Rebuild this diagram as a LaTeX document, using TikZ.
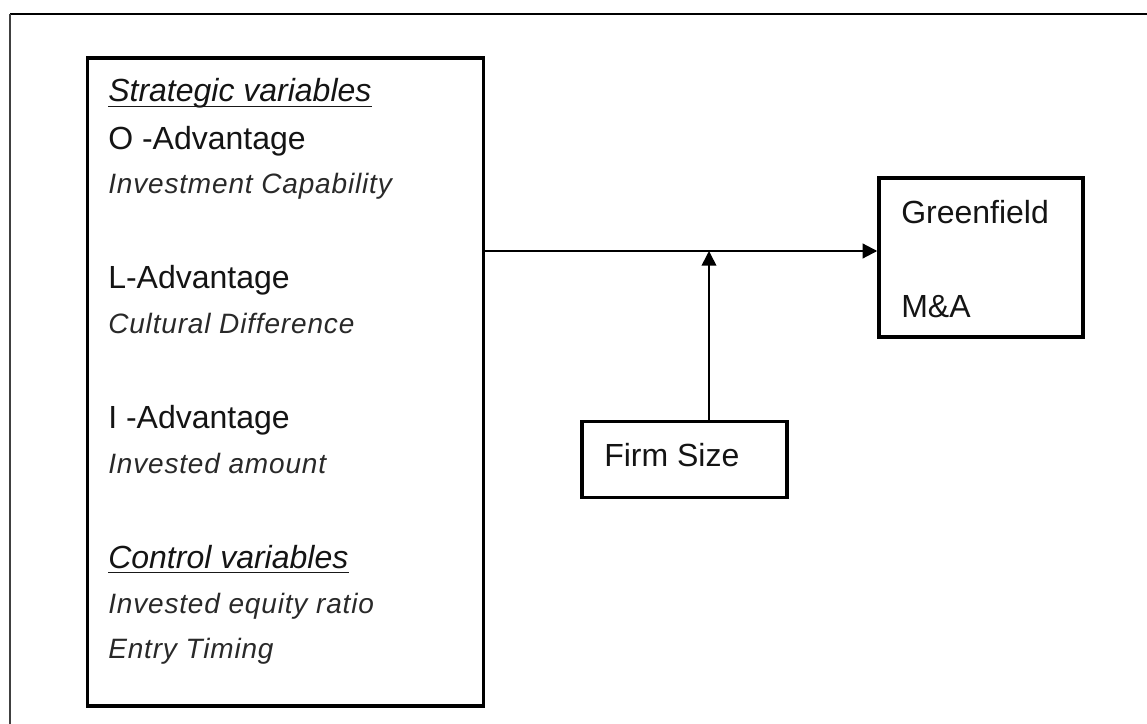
\documentclass[tikz,border=0pt]{standalone}
\usepackage{fontspec}
\setmainfont{Liberation Sans}
\newfontfamily\slfont[LetterSpace=3]{Liberation Sans}
\usetikzlibrary{arrows.meta}
\begin{document}
\begin{tikzpicture}[x=0.75pt,y=-0.75pt,
  box/.style={draw=black,line width=2.6pt,inner sep=0pt,rectangle},
  txt/.style={anchor=base west,inner sep=0pt,font=\fontsize{24}{28}\selectfont,text=black!92},
  sub/.style={anchor=base west,inner sep=0pt,font=\slfont\itshape\fontsize{21}{25}\selectfont,text=black!84},
  head/.style={anchor=base west,inner sep=0pt,font=\itshape\fontsize{24}{28}\selectfont,text=black!92},
  link/.style={draw=black,-{Triangle[length=11pt,width=11pt]}}
]
\useasboundingbox (0,0) rectangle (1147,724);
% page frame (top and left edges)
\draw[line width=2.2pt] (1147,14) -- (10,14);
\draw[line width=1.4pt,black!75] (10,14) -- (10,724);

% boxes
\node[box,minimum width=297pt,minimum height=486pt] (vars) at (285.5,382) {};
\node[box,minimum width=153pt,minimum height=119pt] (mode) at (981,257.5) {};
\node[box,minimum width=154pt,minimum height=57pt] (size) at (684.5,459.5) {};

% variables list
\node[head] (sv) at (108,102) {Strategic variables};
\draw[line width=1.1pt,black!90] ([yshift=-3.5pt]sv.base west) -- ([yshift=-3.5pt]sv.base east);
\node[txt] (oa) at (108,150) {O -Advantage};
\node[sub] (ic) at (108,194) {Investment Capability};
\node[txt] (la) at (108,288) {L-Advantage};
\node[sub] (cd) at (108,333) {Cultural Difference};
\node[txt] (ia) at (108,428) {I -Advantage};
\node[sub] (am) at (108,473) {Invested amount};
\node[head] (cv) at (108,568) {Control variables};
\draw[line width=1.1pt,black!90] ([yshift=-3.5pt]cv.base west) -- ([yshift=-3.5pt]cv.base east);
\node[sub] (er) at (108,613) {Invested equity ratio};
\node[sub] (et) at (108,658) {Entry Timing};

% outcome and moderator labels
\node[txt] (gf) at (901,223) {Greenfield};
\node[txt] (ma) at (901,317) {M\&A};
\node[txt] (fs) at (604,466) {Firm Size};

% connectors
\coordinate (j) at (709,251);
\draw[link,line width=1.6pt] (vars.east |- j) -- (mode.west |- j);
\draw[link,line width=1.2pt] (size.north -| j) -- (j);
\end{tikzpicture}
\end{document}
